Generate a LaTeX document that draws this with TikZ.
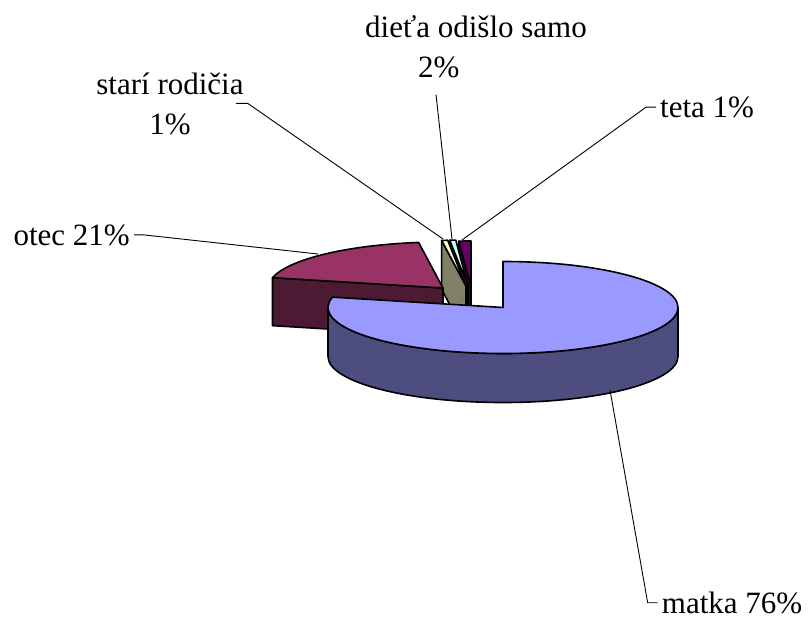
\documentclass[tikz,border=0pt]{standalone}
\usepackage{fontspec}
\setmainfont{Liberation Serif}
\usetikzlibrary{calc}

\definecolor{matkaTop}{HTML}{9999FF}
\definecolor{matkaSide}{HTML}{4D4D80}
\definecolor{otecTop}{HTML}{993366}
\definecolor{otecSide}{HTML}{4D1A33}
\definecolor{stariTop}{HTML}{FFFFCC}
\definecolor{stariSide}{HTML}{808066}
\definecolor{dietaTop}{HTML}{CCFFFF}
\definecolor{dietaSide}{HTML}{668080}
\definecolor{tetaTop}{HTML}{660066}
\definecolor{tetaSide}{HTML}{330033}

\tikzset{
  slice/.style={draw=black,line width=1.6pt,line join=round},
  leader/.style={draw=black,line width=0.9pt},
  lbl/.style={font=\fontsize{31}{40}\selectfont,inner xsep=4pt,inner ysep=0pt},
  ell/.style={x radius=175,y radius=46},
}

\begin{document}
\begin{tikzpicture}[x=1pt,y=1pt]
  \useasboundingbox (0,0) rectangle (811,-621);

  % 各扇区的顶点(爆炸后)
  \coordinate (tc) at (471,-287);   % teta
  \coordinate (dc) at (468,-286);   % dieta
  \coordinate (sc) at (466,-286);   % stari rodicia
  \coordinate (oc) at (443,-288);   % otec
  \coordinate (mc) at (503,-307.5); % matka

  % 弧上的点
  \path (tc) ++(90:175 and 46) coordinate (t0)
        (tc) ++(94:175 and 46) coordinate (t1)
        (dc) ++(94:175 and 46) coordinate (d1)
        (dc) ++(96:175 and 46) coordinate (d2)
        (sc) ++(96:175 and 46) coordinate (s1)
        (sc) ++(98:175 and 46) coordinate (s2)
        (oc) ++(98:175 and 46) coordinate (o1)
        (oc) ++(167:175 and 46) coordinate (o2)
        (mc) ++(90:175 and 46) coordinate (m0)
        (mc) ++(0:175 and 46) coordinate (mr);

  % teta 1%
  \filldraw[slice,fill=tetaSide] (t1) -- (tc) -- ([yshift=-49pt]tc) -- ([yshift=-49pt]t1) -- cycle;
  \filldraw[slice,fill=tetaTop] (tc) -- (t0) arc[start angle=90,end angle=94,ell] -- cycle;

  % dieta 2%
  \filldraw[slice,fill=dietaSide] (d2) -- (dc) -- ([yshift=-49pt]dc) -- ([yshift=-49pt]d2) -- cycle;
  \filldraw[slice,fill=dietaTop] (dc) -- (d1) arc[start angle=94,end angle=96,ell] -- cycle;

  % stari rodicia 1%
  \filldraw[slice,fill=stariSide] (s2) -- (sc) -- ([yshift=-49pt]sc) -- ([yshift=-49pt]s2) -- cycle;
  \filldraw[slice,fill=stariTop] (sc) -- (s1) arc[start angle=96,end angle=98,ell] -- cycle;

  % otec 21%
  \filldraw[slice,fill=otecSide] (o2) -- (oc) -- ([yshift=-48pt]oc) -- ([yshift=-48pt]o2) -- cycle;
  \filldraw[slice,fill=otecTop] (oc) -- (o1) arc[start angle=98,end angle=167,ell] -- cycle;

  % matka 76%:侧面 + 顶面
  \filldraw[slice,fill=matkaSide] (mr) arc[start angle=0,end angle=-180,ell]
    -- ++(0,-49) arc[start angle=180,end angle=360,ell] -- cycle;
  \filldraw[slice,fill=matkaTop] (mc) -- (m0) arc[start angle=90,end angle=-193,ell] -- cycle;

  % 引线的端点
  \coordinate (pm) at (610,-390);
  \coordinate (po) at (318,-254);
  \coordinate (ps) at (443,-239);
  \coordinate (pd) at (452,-239);
  \coordinate (pt) at (462,-240);

  % 标签
  \node[lbl,anchor=base west] (matka) at (657.7,-613.3) {matka 76\%};
  \node[lbl,anchor=base west] (teta) at (656,-117.3) {teta 1\%};
  \node[lbl,anchor=base east] (otec) at (134,-245) {otec 21\%};
  \node[lbl,align=center,anchor=base] (stari) at (170,-134) {starí rodičia\\1\%};
  \node[lbl,align=left,anchor=base west] (dieta) at (361,-77) {dieťa odišlo samo\\\hspace*{53pt}2\%};

  % 引线
  \draw[leader] (matka.west) -- ++(-10,0) -- (pm);
  \draw[leader] (teta.west) -- ++(-10,0) -- (pt);
  \draw[leader] (otec.east) -- ++(10,0) -- (po);
  \draw[leader] ([xshift=-12pt]stari.east) -- (stari.east) -- (ps);
  \draw[leader] ([xshift=-40pt,yshift=-17pt]dieta.south) -- (pd);

\end{tikzpicture}
\end{document}
